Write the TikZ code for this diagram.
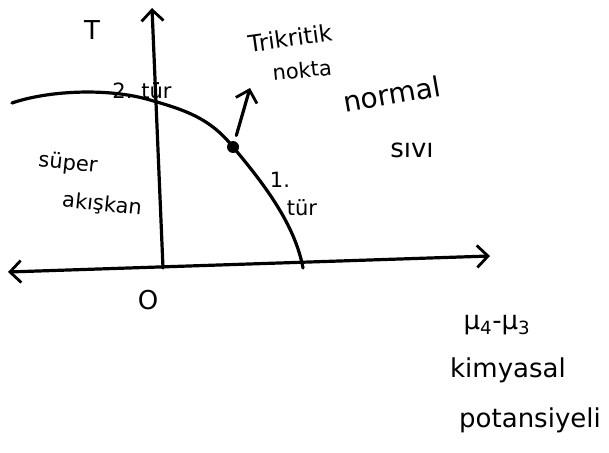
\documentclass[tikz,border=0pt]{standalone}
\usepackage{fontspec}
\setmainfont{DejaVu Sans}
\usetikzlibrary{arrows.meta}
\begin{document}
\begin{tikzpicture}[x=1pt,y=-1pt,
  pen/.style={line width=3.2pt,line cap=round,line join=round},
  barb/.tip={Straight Barb[length=11pt,width=22pt,line width=2.8pt]},
  lbl/.style={font=\fontsize{21}{23}\selectfont,inner sep=0pt},
  big/.style={font=\fontsize{26}{28}\selectfont,inner sep=0pt}]
\useasboundingbox (0,0) rectangle (609,452);
% axis coordinates
\coordinate (xl) at (8,272);
\coordinate (xr) at (490,256);
\coordinate (yb) at (163,268);
\coordinate (yt) at (152,8);
\coordinate (c0) at (12,103);
\coordinate (tc) at (233,147);
\coordinate (c1) at (303,268);
\coordinate (ae) at (250,88);
% axes
\draw[pen,barb-barb] (xl) -- (xr);
\draw[pen,-barb] (yb) -- (yt);
% phase boundary
\draw[pen] (c0) .. controls (50,90) and (110,88) .. (150,100)
  .. controls (185,110) and (210,118) .. (tc)
  .. controls (265,185) and (295,225) .. (c1);
\fill (tc) circle (6pt);
\draw[pen,-barb,shorten <=12pt] (tc) -- (ae);
% labels
\node[big] (T) at (92,30) {T};
\node[big] (O) at (148,300) {O};
\node[lbl,font=\fontsize{23}{25}\selectfont,rotate=8] (tri) at (290,38) {Trikritik};
\node[lbl,rotate=6] (nok) at (302,70) {nokta};
\node[lbl] (t2) at (142,91) {2. tür};
\node[lbl] (t1a) at (280,180) {1.};
\node[lbl] (t1b) at (302,208) {tür};
\node[big,font=\fontsize{28}{30}\selectfont,rotate=10] (nor) at (392,94) {normal};
\node[big] (siv) at (412,150) {sıvı};
\node[lbl,rotate=-6] (sup) at (68,164) {süper};
\node[lbl,rotate=-6] (aki) at (102,205) {akışkan};
\node[big] (mu) at (497,325) {μ\textsubscript{4}-μ\textsubscript{3}};
\node[big] (kim) at (508,370) {kimyasal};
\node[big] (pot) at (530,420) {potansiyeli};
\end{tikzpicture}
\end{document}
